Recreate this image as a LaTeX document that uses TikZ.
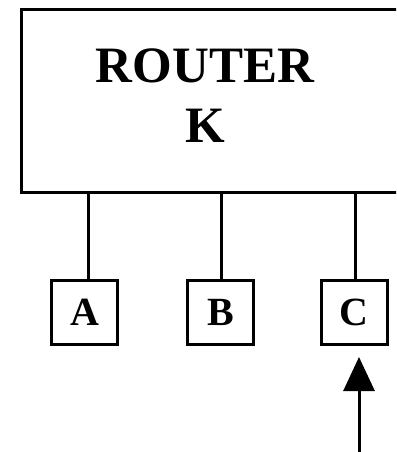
\documentclass[tikz,border=0pt]{standalone}
\usepackage{fontspec}
\setmainfont{Liberation Serif}
\usetikzlibrary{arrows.meta}

\tikzset{
	host/.style={draw, line width=3pt, minimum width=66pt, minimum height=64pt,
		font=\fontsize{40}{46}\selectfont\bfseries},
	link/.style={line width=3pt}
}

\begin{document}
\begin{tikzpicture}[x=1pt, y=-1pt]
	\clip (0,0) rectangle (396,452);
	
	% the router, its right side runs off the page
	\node[draw, line width=3pt, minimum width=379pt, minimum height=182pt] (router) at (210.5,101) {};
	\node[font=\fontsize{51}{60}\selectfont\bfseries, align=center] (routername) at (205,96) {ROUTER\\K};
	
	\node[host] (nodeA) at (84.5,312.5) {A};
	\node[host] (nodeB) at (220.5,312.5) {B};
	\node[host] (nodeC) at (354,312.5) {C};
	
	\draw[link] ([xshift=4pt]nodeA.north) -- ([xshift=4pt]nodeA.north |- router.south);
	\draw[link] ([xshift=1pt]nodeB.north) -- ([xshift=1pt]nodeB.north |- router.south);
	\draw[link] ([xshift=1pt]nodeC.north) -- ([xshift=1pt]nodeC.north |- router.south);
	
	\coordinate (feed) at (359,452);
	\draw[link, -{Triangle[width=31pt,length=34pt]}, shorten >=11pt] (feed) -- (feed |- nodeC.south);
\end{tikzpicture}
\end{document}
